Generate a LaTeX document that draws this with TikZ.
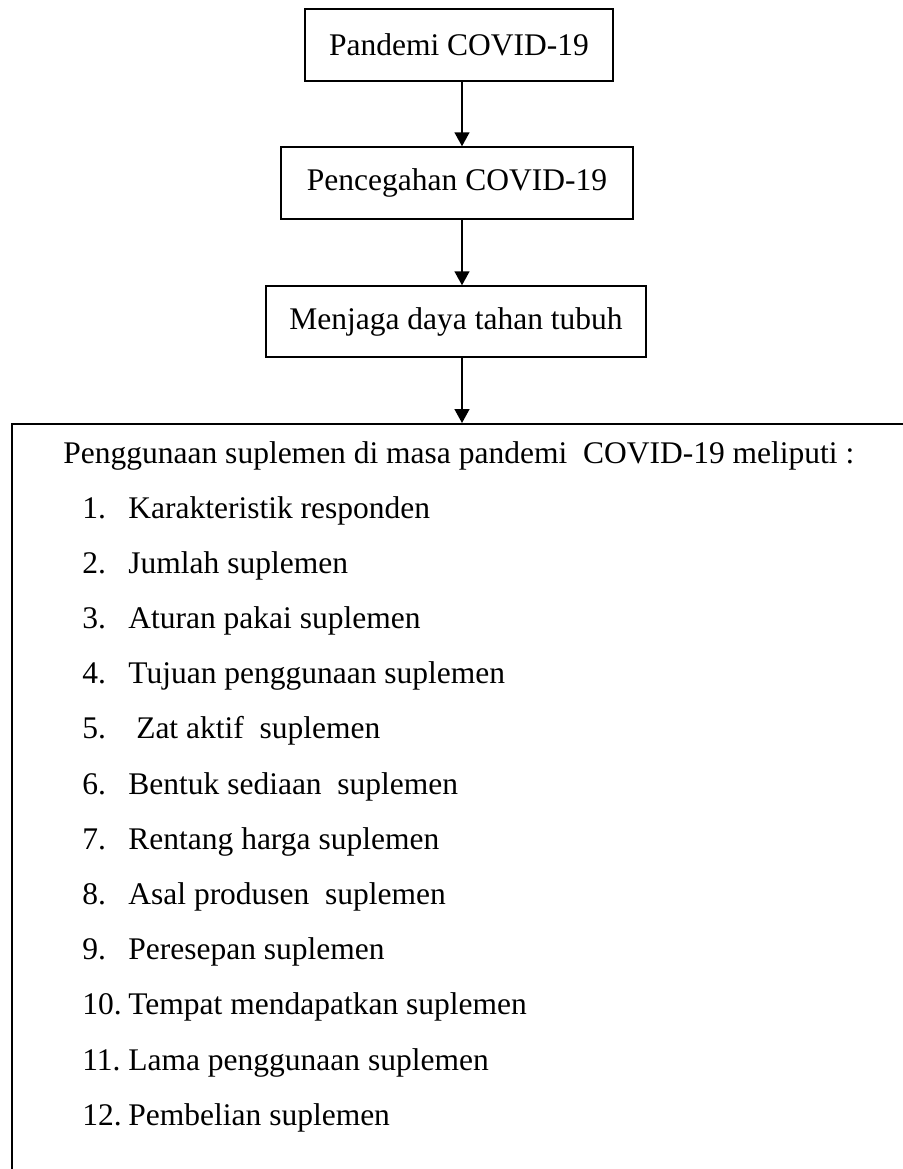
\documentclass[tikz,border=0pt]{standalone}
\usepackage{fontspec}
\setmainfont{Liberation Serif}
\usetikzlibrary{arrows.meta}
\begin{document}
\begin{tikzpicture}[x=0.5pt, y=-0.5pt,
  box/.style={draw, line width=0.75pt, minimum height=36pt, inner sep=0pt, font=\fontsize{15.75}{19}\selectfont},
  flow/.style={line width=0.75pt, -{Triangle[length=7pt,width=7.5pt]}},
  item/.style={anchor=base west, inner sep=0pt, font=\fontsize{15.75}{19}\selectfont}]
\useasboundingbox (0,0) rectangle (903,1169);
\clip (0,0) rectangle (903,1169);
\node[box, minimum width=154pt] (pandemi) at (459,45){Pandemi COVID-19};
\node[box, minimum width=176pt] (cegah) at (457,183){Pencegahan COVID-19};
\node[box, minimum width=190pt, minimum height=35.5pt] (jaga) at (456,321.5){Menjaga daya tahan tubuh};
\node[draw, line width=0.9pt, anchor=north west, minimum width=480pt, minimum height=420pt, inner sep=0pt] (daftar) at (11,423){};
\coordinate (ax) at (462,0);
\draw[flow](pandemi.south -| ax) -- (cegah.north -| ax);
\draw[flow](cegah.south -| ax) -- (jaga.north -| ax);
\draw[flow](jaga.south -| ax) -- (daftar.north -| ax);
% isi daftar
\node[item] (judul) at (63,463){Penggunaan suplemen di masa pandemi\ \ COVID-19 meliputi :};
\node[item] (it1) at (82,518){\makebox[23pt][l]{1.}Karakteristik responden};
\node[item] (it2) at (82,573.2){\makebox[23pt][l]{2.}Jumlah suplemen};
\node[item] (it3) at (82,628.4){\makebox[23pt][l]{3.}Aturan pakai suplemen};
\node[item] (it4) at (82,683.6){\makebox[23pt][l]{4.}Tujuan penggunaan suplemen};
\node[item] (it5) at (82,738.8){\makebox[23pt][l]{5.}\ Zat aktif\ \ suplemen};
\node[item] (it6) at (82,794){\makebox[23pt][l]{6.}Bentuk sediaan\ \ suplemen};
\node[item] (it7) at (82,849.2){\makebox[23pt][l]{7.}Rentang harga suplemen};
\node[item] (it8) at (82,904.4){\makebox[23pt][l]{8.}Asal produsen\ \ suplemen};
\node[item] (it9) at (82,959.6){\makebox[23pt][l]{9.}Peresepan suplemen};
\node[item] (it10) at (82,1014.8){\makebox[23pt][l]{10.}Tempat mendapatkan suplemen};
\node[item] (it11) at (82,1070){\makebox[23pt][l]{11.}Lama penggunaan suplemen};
\node[item] (it12) at (82,1125.2){\makebox[23pt][l]{12.}Pembelian suplemen};
\end{tikzpicture}
\end{document}
